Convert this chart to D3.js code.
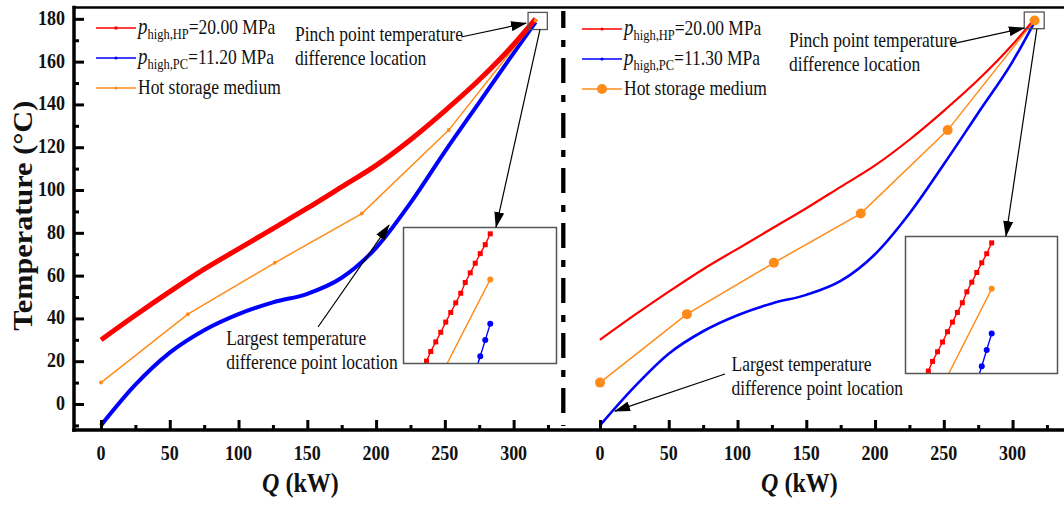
<!DOCTYPE html>
<html>
<head>
<meta charset="utf-8">
<script src="https://cdn.jsdelivr.net/npm/d3@7"></script>
<style>
  body { margin: 0; background: #fff; }
  svg { display: block; }
  text { font-family: "Liberation Serif", "Times New Roman", serif; fill: #111; }
</style>
</head>
<body>
<div id="chart"></div>
<script>
// ---- data: Q in kW, T in degC ----
var qTicks = [0, 50, 100, 150, 200, 250, 300];
var qMinor = [25, 75, 125, 175, 225, 275, 325];
var tTicks = [0, 20, 40, 60, 80, 100, 120, 140, 160, 180];
var tMinor = [-10, 10, 30, 50, 70, 90, 110, 130, 150, 170];

var hpLeft = [[0, 30], [25, 41.5], [50, 52.5], [75, 63], [100, 72.5], [125, 82], [150, 91.5], [175, 101.5],
  [200, 111.5], [225, 123.5], [250, 137], [275, 151.5], [300, 168], [316, 180]];
var pcLeft = [[0, -10], [25, 9], [50, 24], [75, 34.5], [100, 42], [125, 47.5], [150, 51.5], [175, 59],
  [200, 73], [225, 94], [250, 118], [275, 141], [300, 164], [316, 178.5]];
var hpRight = [[0, 30], [25, 41.5], [50, 52.5], [75, 63], [100, 72.5], [125, 82], [150, 91.5], [175, 101.5],
  [200, 111.5], [225, 123.5], [250, 137], [275, 151.5], [300, 168], [316, 180]];
var pcRight = [[0, -10], [25, 8], [50, 23.5], [75, 34], [100, 41.5], [125, 47], [150, 51], [175, 57.5],
  [200, 70], [225, 89], [250, 112], [275, 136], [300, 160], [316, 178.5]];
var storage = [[0, 10], [63.2, 42], [126.4, 66], [189.6, 89], [252.8, 128], [316, 179.24]];

// points near the hot end, as seen in the zoomed insets
var hpTail = [[313.45, 177.88], [313.62, 178.04], [313.82, 178.2], [314.02, 178.36], [314.22, 178.53],
  [314.42, 178.69], [314.62, 178.85], [314.82, 179.01], [315.0, 179.19], [315.2, 179.35],
  [315.4, 179.51], [315.6, 179.67], [315.8, 179.82], [316.0, 180.0]];
var pcTail = [[315.4, 177.7], [315.6, 177.96], [315.8, 178.23], [316, 178.5]];

var legendLeft = ["20.00", "11.20"];
var legendRight = ["20.00", "11.30"];
var legendSubs = ["high,HP", "high,PC"];

var W = 1064, H = 505;
var SY = 1.16; // the original figure is slightly stretched vertically
var red = "#ff0000", blue = "#0000ff", orange = "#ff8c1a";

var svg = d3.select("#chart").append("svg")
  .attr("width", W).attr("height", H);

var defs = svg.append("defs");
defs.append("marker")
  .attr("id", "arrow")
  .attr("markerUnits", "userSpaceOnUse")
  .attr("markerWidth", 16).attr("markerHeight", 10)
  .attr("refX", 15).attr("refY", 5)
  .attr("orient", "auto")
  .append("path").attr("d", "M0,0 L16,5 L0,10 Z").attr("fill", "#000");

function label(g, x, y, str, size, opts) {
  opts = opts || {};
  return g.append("text")
    .attr("transform", "translate(" + x + "," + y + ") scale(1," + SY + ")")
    .attr("font-size", size)
    .attr("font-weight", opts.weight || "normal")
    .attr("font-style", opts.style || "normal")
    .attr("text-anchor", opts.anchor || "start")
    .text(str);
}

var y = d3.scaleLinear().domain([-12.15, 185.3]).range([430, 7.5]);

var panels = [
  {
    x: d3.scaleLinear().domain([-20.36, 335.9]).range([73, 563]),
    hp: hpLeft, pc: pcLeft, hpW: 5, pcW: 4, dotR: 2, legend: legendLeft,
    legX: 96, legY: [28, 58, 88], legBig: false,
    inset: {x: 403.5, y: 227.5, w: 153, h: 136},
    zoomBox: [310.5, 324.5, 175, 183],
    link: [[319.2, 175.1], [287.2, 82.7]],
    pinchText: [141, 169.6], pinchArrow: [[261.8, 171.5], [309, 178]],
    bigText: [91, 27.6], bigArrow: [[157.8, 36], [209.4, 83.6]]
  },
  {
    x: d3.scaleLinear().domain([-21.09, 337.4]).range([571, 1064]),
    hp: hpRight, pc: pcRight, hpW: 2.2, pcW: 2.6, dotR: 5, legend: legendRight,
    legX: 582, legY: [29, 59, 89], legBig: true,
    inset: {x: 905.5, y: 236.5, w: 152, h: 137},
    zoomBox: [308.5, 323, 175.4, 183.2],
    link: [[317.7, 175.4], [295.2, 78.5]],
    pinchText: [137.4, 166.8], pinchArrow: [[255.2, 168.2], [308.3, 175.7]],
    bigText: [95.6, 15.2], bigArrow: [[90.9, 14], [10.9, -3.3]]
  }
];

panels.forEach(function(p, i) {
  var g = svg.append("g");
  var x = p.x;
  var line = d3.line().x(function(d) { return x(d[0]); }).y(function(d) { return y(d[1]); });

  // curves
  g.append("path").datum(p.pc)
    .attr("d", line.curve(d3.curveMonotoneX))
    .attr("fill", "none").attr("stroke", blue).attr("stroke-width", p.pcW);
  g.append("path").datum(storage)
    .attr("d", line.curve(d3.curveLinear))
    .attr("fill", "none").attr("stroke", orange).attr("stroke-width", 1.5);
  g.append("path").datum(p.hp)
    .attr("d", line.curve(d3.curveMonotoneX))
    .attr("fill", "none").attr("stroke", red).attr("stroke-width", p.hpW);
  g.selectAll(".sdot").data(storage).enter().append("circle")
    .attr("cx", function(d) { return x(d[0]); })
    .attr("cy", function(d) { return y(d[1]); })
    .attr("r", p.dotR).attr("fill", orange);

  // x axis ticks (inward)
  var ax = g.append("g").attr("transform", "translate(0,430)");
  ax.call(d3.axisBottom(x).tickValues(qTicks).tickSizeInner(-10).tickSizeOuter(0).tickFormat(""));
  ax.append("g").call(d3.axisBottom(x).tickValues(qMinor.filter(function(q) { return x(q) < x.range()[1] - 4; }))
    .tickSizeInner(-5).tickSizeOuter(0).tickFormat(""));
  ax.selectAll(".domain").remove();
  ax.selectAll("line").attr("stroke", "#000").attr("stroke-width", 3);
  qTicks.forEach(function(q) {
    label(g, x(q), 460, q, 18, {weight: "bold", anchor: "middle"});
  });

  // x title
  var xt = label(g, x(145), 492, "", 24, {weight: "bold", anchor: "middle"});
  xt.append("tspan").attr("font-style", "italic").text("Q");
  xt.append("tspan").text(" (kW)");

  // legend
  var names = [0, 1, 2];
  var cols = [red, blue, orange];
  names.forEach(function(k) {
    var ly = p.legY[k];
    g.append("line").attr("x1", p.legX).attr("x2", p.legX + 40)
      .attr("y1", ly).attr("y2", ly).attr("stroke", cols[k]).attr("stroke-width", 1.5);
    if (k === 0 && !p.legBig) {
      g.append("rect").attr("x", p.legX + 18.5).attr("y", ly - 1.5).attr("width", 3).attr("height", 3).attr("fill", cols[k]);
    } else {
      g.append("circle").attr("cx", p.legX + 20).attr("cy", ly)
        .attr("r", (k === 2 && p.legBig) ? 5 : 1.6).attr("fill", cols[k]);
    }
    var t = label(g, p.legX + 42, ly + 6, "", 17.5);
    if (k < 2) {
      t.append("tspan").attr("font-style", "italic").attr("font-size", 19).text("p");
      t.append("tspan").attr("font-size", 12.5).attr("dy", 4).text(legendSubs[k]);
      t.append("tspan").attr("dy", -4).text("=" + p.legend[k] + " MPa");
    } else {
      t.text("Hot storage medium");
    }
  });

  // zoom box on the hot end
  g.append("rect")
    .attr("x", x(p.zoomBox[0])).attr("y", y(p.zoomBox[3]))
    .attr("width", x(p.zoomBox[1]) - x(p.zoomBox[0]))
    .attr("height", y(p.zoomBox[2]) - y(p.zoomBox[3]))
    .attr("fill", "none").attr("stroke", "#555").attr("stroke-width", 1.3);

  // inset
  var ins = p.inset;
  var ix = d3.scaleLinear().domain([312.53, 318.65]).range([ins.x, ins.x + ins.w]);
  var iy = d3.scaleLinear().domain([177.84, 180.105]).range([ins.y + ins.h, ins.y]);
  var iline = d3.line().x(function(d) { return ix(d[0]); }).y(function(d) { return iy(d[1]); });
  defs.append("clipPath").attr("id", "clip" + i).append("rect")
    .attr("x", ins.x).attr("y", ins.y).attr("width", ins.w).attr("height", ins.h);
  g.append("rect").attr("x", ins.x).attr("y", ins.y).attr("width", ins.w).attr("height", ins.h)
    .attr("fill", "#fff");
  var ig = g.append("g").attr("clip-path", "url(#clip" + i + ")");
  ig.append("path").datum(hpTail).attr("d", iline)
    .attr("fill", "none").attr("stroke", red).attr("stroke-width", 1.4);
  ig.selectAll(".hsq").data(hpTail).enter().append("rect")
    .attr("x", function(d) { return ix(d[0]) - 2.5; })
    .attr("y", function(d) { return iy(d[1]) - 2.5; })
    .attr("width", 5).attr("height", 5).attr("fill", red);
  ig.append("path").datum(storage).attr("d", iline)
    .attr("fill", "none").attr("stroke", orange).attr("stroke-width", 1.4);
  ig.append("circle").datum(storage[storage.length - 1])
    .attr("cx", function(d) { return ix(d[0]); }).attr("cy", function(d) { return iy(d[1]); })
    .attr("r", 3).attr("fill", orange);
  ig.append("path").datum(pcTail).attr("d", iline)
    .attr("fill", "none").attr("stroke", blue).attr("stroke-width", 1.4);
  ig.selectAll(".pdot").data(pcTail).enter().append("circle")
    .attr("cx", function(d) { return ix(d[0]); }).attr("cy", function(d) { return iy(d[1]); })
    .attr("r", 3).attr("fill", blue);
  g.append("rect").attr("x", ins.x).attr("y", ins.y).attr("width", ins.w).attr("height", ins.h)
    .attr("fill", "none").attr("stroke", "#555").attr("stroke-width", 1.5);

  // annotations
  function arrow(a) {
    g.append("line")
      .attr("x1", x(a[0][0])).attr("y1", y(a[0][1]))
      .attr("x2", x(a[1][0])).attr("y2", y(a[1][1]))
      .attr("stroke", "#000").attr("stroke-width", 1.2)
      .attr("marker-end", "url(#arrow)");
  }
  arrow(p.link);
  arrow(p.pinchArrow);
  arrow(p.bigArrow);
  label(g, x(p.pinchText[0]), y(p.pinchText[1]), "Pinch point temperature", 17.5);
  label(g, x(p.pinchText[0]), y(p.pinchText[1]) + 24, "difference location", 17.5);
  label(g, x(p.bigText[0]), y(p.bigText[1]), "Largest temperature", 17.5);
  label(g, x(p.bigText[0]), y(p.bigText[1]) + 24, "difference point location", 17.5);
});

// left y axis
var ay = svg.append("g").attr("transform", "translate(74,0)");
ay.call(d3.axisLeft(y).tickValues(tTicks).tickSizeInner(-10).tickSizeOuter(0).tickFormat(""));
ay.append("g").call(d3.axisLeft(y).tickValues(tMinor).tickSizeInner(-5).tickSizeOuter(0).tickFormat(""));
ay.selectAll(".domain").remove();
ay.selectAll("line").attr("stroke", "#000").attr("stroke-width", 3);
tTicks.forEach(function(t) {
  label(svg, 65, y(t) + 6, t, 18, {weight: "bold", anchor: "end"});
});
svg.append("text")
  .attr("transform", "translate(32," + y(88) + ") rotate(-90)")
  .attr("text-anchor", "middle")
  .attr("font-size", 27).attr("font-weight", "bold")
  .attr("textLength", 230).attr("lengthAdjust", "spacingAndGlyphs")
  .text("Temperature (\u00B0C)");

// frame
var frame = svg.append("g").attr("stroke", "#000").attr("stroke-linecap", "square");
frame.append("line").attr("x1", 74).attr("x2", 74).attr("y1", 7.5).attr("y2", 430).attr("stroke-width", 3.5);
frame.append("line").attr("x1", 74).attr("x2", W).attr("y1", 430).attr("y2", 430).attr("stroke-width", 3.5);
frame.append("line").attr("x1", 74).attr("x2", W).attr("y1", 7.5).attr("y2", 7.5).attr("stroke-width", 2.5);

// dash-dot divider between the two cases
svg.append("line")
  .attr("x1", 563.3).attr("x2", 563.3).attr("y1", 11).attr("y2", 426)
  .attr("stroke", "#000").attr("stroke-width", 4.3)
  .attr("stroke-dasharray", "25,12,7,11").attr("stroke-dashoffset", 8);
</script>
</body>
</html>
